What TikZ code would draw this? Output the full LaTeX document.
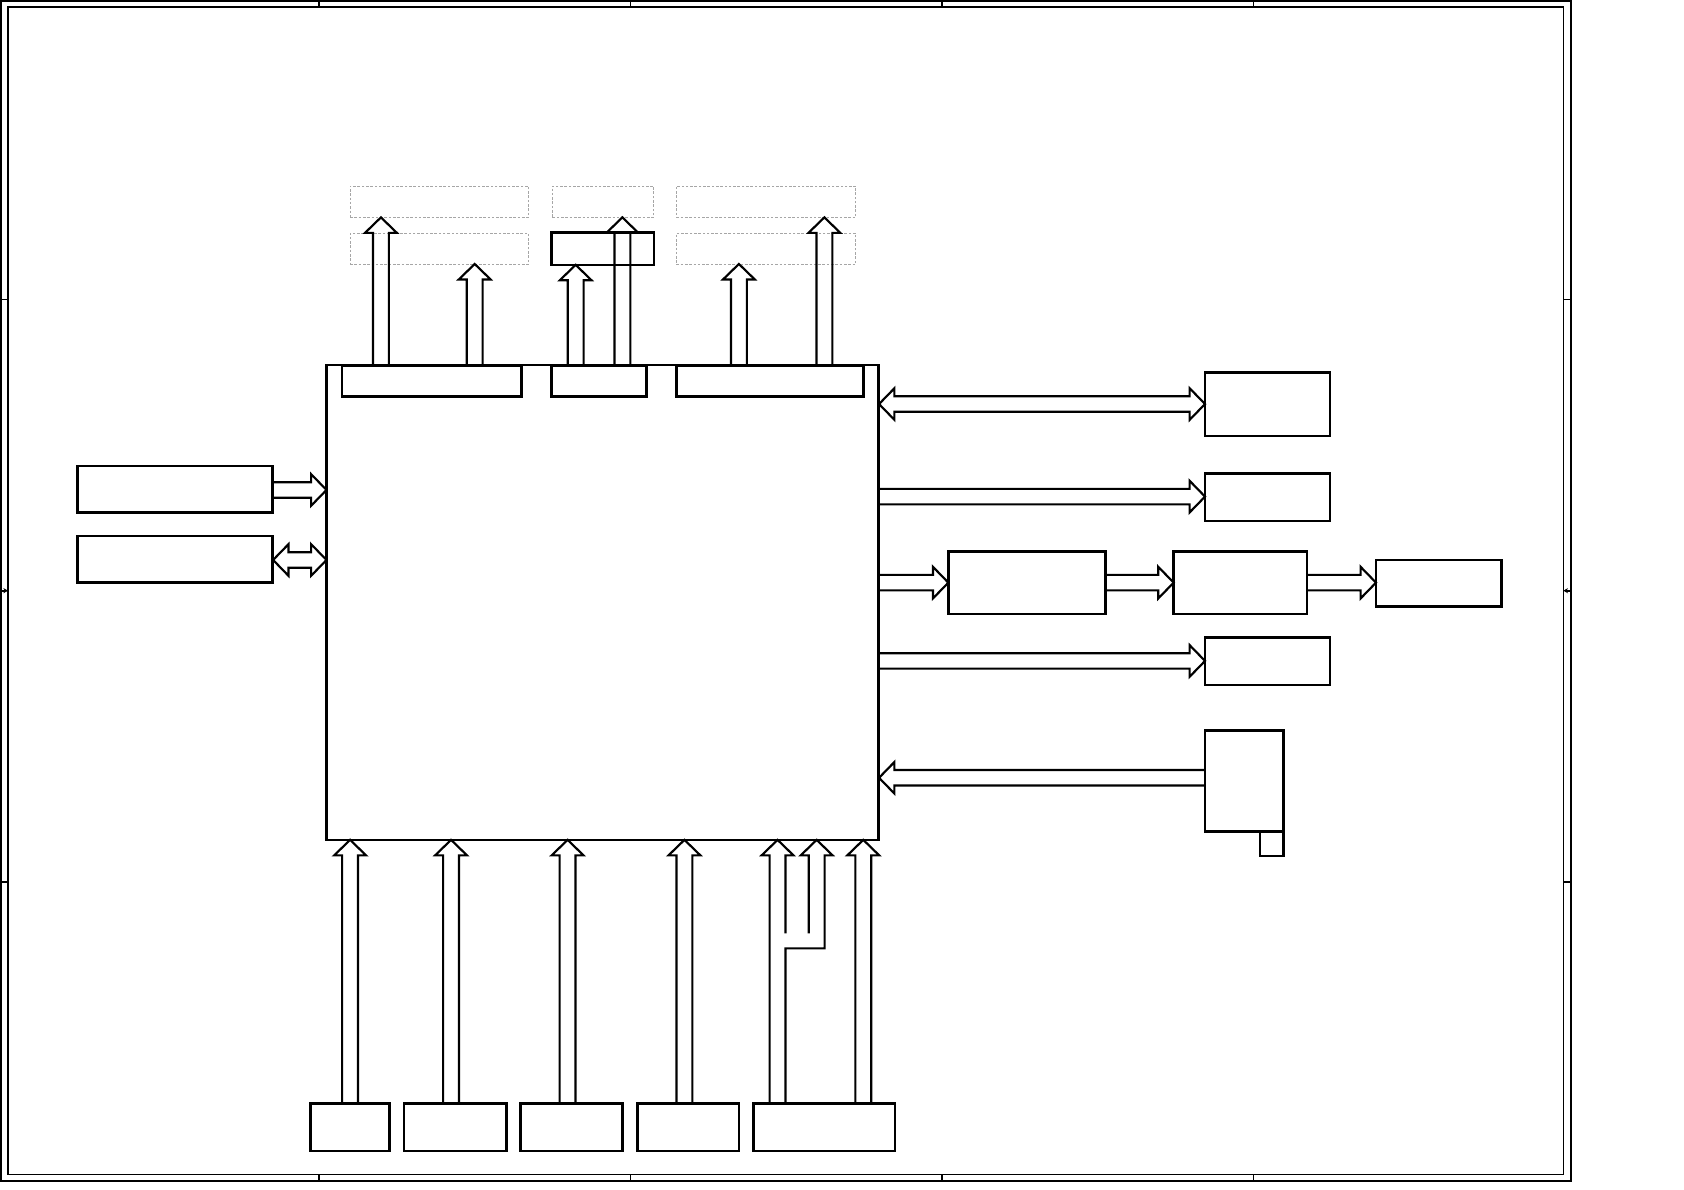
\documentclass[tikz,border=0pt]{standalone}
\usetikzlibrary{fit,arrows.meta}
\newcommand\BlkUp[3]{%
 \draw[blk] ({#1-7.4},#2) -- ({#1-7.4},{#3+14.4}) -- ({#1-14.8},{#3+14.4}) -- (#1,#3) -- ({#1+14.8},{#3+14.4}) -- ({#1+7.4},{#3+14.4}) -- ({#1+7.4},#2);}
\newcommand\BlkRight[3]{%
 \draw[blk] (#2,{#1-7.2}) -- ({#3-14.3},{#1-7.2}) -- ({#3-14.3},{#1-14.7}) -- (#3,#1) -- ({#3-14.3},{#1+14.7}) -- ({#3-14.3},{#1+7.2}) -- (#2,{#1+7.2});}
\newcommand\BlkLeft[3]{%
 \draw[blk] (#2,{#1-7.2}) -- ({#3+14.3},{#1-7.2}) -- ({#3+14.3},{#1-14.7}) -- (#3,#1) -- ({#3+14.3},{#1+14.7}) -- ({#3+14.3},{#1+7.2}) -- (#2,{#1+7.2});}
\newcommand\BlkBoth[3]{%
 \draw[blk] (#2,#1) -- ({#2+14.3},{#1-14.7}) -- ({#2+14.3},{#1-7.2}) -- ({#3-14.3},{#1-7.2}) -- ({#3-14.3},{#1-14.7}) -- (#3,#1) -- ({#3-14.3},{#1+14.7}) -- ({#3-14.3},{#1+7.2}) -- ({#2+14.3},{#1+7.2}) -- ({#2+14.3},{#1+14.7}) -- cycle;}
\begin{document}
\begin{tikzpicture}[x=0.5pt,y=-0.5pt,
  box/.style={draw,line width=1.25pt,inner sep=0pt,outer sep=0pt},
  mainbox/.style={draw,line width=1pt,inner sep=0pt,outer sep=0pt},
  ghost/.style={draw=black!35,line width=0.45pt,dash pattern=on 1.2pt off 0.8pt,inner sep=0pt,outer sep=0pt},
  blk/.style={line width=1pt,line join=miter},
  frame/.style={line width=0.75pt}]
\useasboundingbox (0,0) rectangle (1568,1108);
% drawing frame
\draw[frame] (0.7,0.7) rectangle (1462.5,1099.6);
\draw[frame] (7.5,6.5) rectangle (1455.6,1093.4);
\foreach \tx in {297,587,877,1167}{
  \draw[frame] (\tx,0.7) -- (\tx,6.5);
  \draw[frame] (\tx,1093.4) -- (\tx,1099.6);}
\foreach \ty in {278.7,821.5}{
  \draw[frame] (0.7,\ty) -- (7.5,\ty);
  \draw[frame] (1455.6,\ty) -- (1462.5,\ty);}
\draw[frame,-{Stealth[length=2.2pt,width=2.4pt]}] (0.7,550) -- (7.5,550);
\draw[frame,-{Stealth[length=2.2pt,width=2.4pt]}] (1462.5,550) -- (1455.6,550);
% main block
\node[mainbox,fit={(304,340)(818,782)}] (main) {};
\node[box,fit={(318.3,340)(485.5,369.3)}] (s1) {};
\node[box,fit={(513.8,340)(601.9,369.3)}] (s2) {};
\node[box,fit={(629.8,340)(804,369.3)}] (s3) {};
% targets above
\node[ghost,fit={(326,173.2)(492,202.4)}] (d1a) {};
\node[ghost,fit={(514.4,173.2)(608.6,202.4)}] (d2a) {};
\node[ghost,fit={(629.8,173.2)(796.8,202.4)}] (d3a) {};
\node[ghost,fit={(326,217.3)(492,246.1)}] (d1b) {};
\node[ghost,fit={(629.8,217.3)(796.8,246.1)}] (d3b) {};
\node[box,fit={(513.8,216.8)(609,246.6)}] (t2) {};
% left boxes
\node[box,fit={(72.3,433.9)(253.9,477.3)}] (l1) {};
\node[box,fit={(72.3,499)(253.9,542.5)}] (l2) {};
% right boxes
\node[box,fit={(1122,347)(1238.4,406)}] (r1) {};
\node[box,fit={(1122,441)(1238.4,485.1)}] (r2) {};
\node[box,fit={(883,513.7)(1029.2,571.7)}] (m1) {};
\node[box,fit={(1092.8,513.7)(1217,571.7)}] (m2) {};
\node[box,fit={(1281.2,521.4)(1397.9,564.9)}] (m3) {};
\node[box,fit={(1122,593.4)(1238.4,637.8)}] (r4) {};
\node[box,fit={(1122,680.3)(1194.9,774.4)}] (r5) {};
\node[box,fit={(1173.2,774.4)(1194.9,797)}] (r5s) {};
% bottom boxes
\node[box,fit={(289.3,1027.5)(362.8,1071.7)}] (b1) {};
\node[box,fit={(376.2,1027.5)(471.4,1071.7)}] (b2) {};
\node[box,fit={(484.4,1027.5)(579.6,1071.7)}] (b3) {};
\node[box,fit={(593.3,1027.5)(688.2,1071.7)}] (b4) {};
\node[box,fit={(701.9,1027.5)(833.3,1071.7)}] (b5) {};
% arrows up from main
\BlkUp{354.7}{340}{202.4}
\BlkUp{442}{340}{245.8}
\BlkUp{536}{340}{246.6}
\BlkUp{579.5}{340}{202.4}
\BlkUp{688}{340}{245.8}
\BlkUp{767.6}{340}{202.4}
% left arrows
\BlkRight{456.2}{253.9}{304}
\BlkBoth{521.4}{254.3}{304}
% right arrows
\BlkBoth{376.2}{818.5}{1122}
\BlkRight{462.4}{818}{1122}
\BlkRight{542.5}{818}{883}
\BlkRight{542.5}{1029.2}{1092.8}
\BlkRight{542.5}{1217}{1281.2}
\BlkRight{615.4}{818}{1122}
\BlkLeft{724.2}{1122}{818.5}
% arrows from bottom boxes
\BlkUp{326}{1027.5}{782}
\BlkUp{420}{1027.5}{782}
\BlkUp{528.5}{1027.5}{782}
\BlkUp{637.3}{1027.5}{782}
\BlkUp{803.8}{1027.5}{782}
\draw[blk] (716.6,1027.5) -- (716.6,796.4) -- (709.2,796.4) -- (724,782) -- (738.8,796.4) -- (731.4,796.4) -- (731.4,869);
\draw[blk] (753,869) -- (753,796.4) -- (745.6,796.4) -- (760.4,782) -- (775.2,796.4) -- (767.8,796.4) -- (767.8,883) -- (731.4,883) -- (731.4,1027.5);
\end{tikzpicture}
\end{document}
